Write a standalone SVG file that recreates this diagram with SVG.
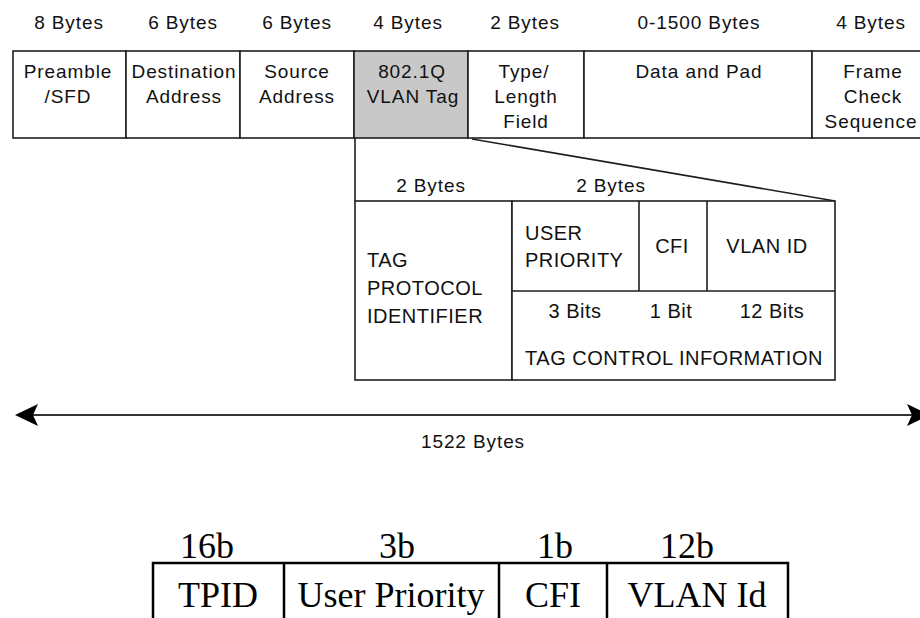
<svg xmlns="http://www.w3.org/2000/svg" width="920" height="618" viewBox="0 0 920 618">
  <style>
    .cell { fill: #ffffff; stroke: #1e1e1e; stroke-width: 1.6; }
    .tag { fill: #c8c8c8; stroke: #1e1e1e; stroke-width: 1.6; }
    .rule { stroke: #1e1e1e; stroke-width: 1.6; fill: none; }
    .lbl { font-family: "Liberation Sans", Arial, sans-serif; font-size: 19px; letter-spacing: 0.9px; fill: #111111; text-anchor: middle; }
    .det { font-family: "Liberation Sans", Arial, sans-serif; font-size: 20px; letter-spacing: 0.5px; fill: #111111; }
    .mid { text-anchor: middle; }
    .ser { font-family: "Liberation Serif", "Times New Roman", serif; font-size: 36px; fill: #000000; text-anchor: middle; }
    .box2 { fill: none; stroke: #000000; stroke-width: 2.5; }
  </style>

  <rect width="920" height="618" fill="#ffffff"/>

  <!-- byte counts above the Ethernet frame -->
  <g id="byte-sizes">
    <text class="lbl" x="69" y="29">8 Bytes</text>
    <text class="lbl" x="183" y="29">6 Bytes</text>
    <text class="lbl" x="297" y="29">6 Bytes</text>
    <text class="lbl" x="408" y="29">4 Bytes</text>
    <text class="lbl" x="525" y="29">2 Bytes</text>
    <text class="lbl" x="699" y="29">0-1500 Bytes</text>
    <text class="lbl" x="871" y="29">4 Bytes</text>
  </g>

  <!-- tagged Ethernet frame fields -->
  <g id="preamble">
    <rect class="cell" x="13" y="51" width="113" height="87"/>
    <text class="lbl" x="68" y="78">Preamble</text>
    <text class="lbl" x="68" y="103">/SFD</text>
  </g>
  <g id="destination">
    <rect class="cell" x="126" y="51" width="114" height="87"/>
    <text class="lbl" x="184" y="78">Destination</text>
    <text class="lbl" x="184" y="103">Address</text>
  </g>
  <g id="source">
    <rect class="cell" x="240" y="51" width="114" height="87"/>
    <text class="lbl" x="297" y="78">Source</text>
    <text class="lbl" x="297" y="103">Address</text>
  </g>
  <g id="vlan-tag">
    <rect class="tag" x="354" y="51" width="114" height="87"/>
    <text class="lbl" x="412" y="78">802.1Q</text>
    <text class="lbl" x="413" y="103">VLAN Tag</text>
  </g>
  <g id="type-length">
    <rect class="cell" x="468" y="51" width="116" height="87"/>
    <text class="lbl" x="524" y="78">Type/</text>
    <text class="lbl" x="526" y="103">Length</text>
    <text class="lbl" x="526" y="128">Field</text>
  </g>
  <g id="data">
    <rect class="cell" x="584" y="51" width="228" height="87"/>
    <text class="lbl" x="699" y="78">Data and Pad</text>
  </g>
  <g id="fcs">
    <rect class="cell" x="812" y="51" width="116" height="87"/>
    <text class="lbl" x="873" y="78">Frame</text>
    <text class="lbl" x="873" y="103">Check</text>
    <text class="lbl" x="871" y="128">Sequence</text>
  </g>

  <!-- expansion of the 802.1Q tag -->
  <g id="connectors">
    <line class="rule" x1="355" y1="138" x2="355" y2="201"/>
    <line class="rule" x1="472" y1="139" x2="835" y2="201" stroke-width="2"/>
  </g>

  <g id="tag-sizes">
    <text class="lbl" x="431" y="192">2 Bytes</text>
    <text class="lbl" x="611" y="192">2 Bytes</text>
  </g>

  <g id="tpid">
    <rect class="cell" x="355" y="201" width="157" height="179"/>
    <text class="det" x="367" y="267">TAG</text>
    <text class="det" x="367" y="295">PROTOCOL</text>
    <text class="det" x="367" y="323">IDENTIFIER</text>
  </g>
  <g id="tci">
    <rect class="cell" x="512" y="201" width="323" height="179"/>
    <line class="rule" x1="512" y1="291" x2="835" y2="291"/>
    <line class="rule" x1="639" y1="201" x2="639" y2="291"/>
    <line class="rule" x1="707" y1="201" x2="707" y2="291"/>
    <text class="det" x="525" y="240">USER</text>
    <text class="det" x="525" y="267">PRIORITY</text>
    <text class="det mid" x="672" y="253">CFI</text>
    <text class="det mid" x="767" y="253">VLAN ID</text>
    <text class="det mid" x="575" y="318">3 Bits</text>
    <text class="det mid" x="671" y="318">1 Bit</text>
    <text class="det mid" x="772" y="318">12 Bits</text>
    <text class="det mid" x="674" y="365">TAG CONTROL INFORMATION</text>
  </g>

  <!-- overall frame length -->
  <g id="length-arrow">
    <line x1="30" y1="415" x2="915" y2="415" stroke="#333333" stroke-width="2.2"/>
    <path d="M15,415 L38,404 L33,415 L38,426 Z" fill="#000000"/>
    <path d="M930,415 L907,404 L912,415 L907,426 Z" fill="#000000"/>
    <text class="lbl" x="473" y="448">1522 Bytes</text>
  </g>

  <!-- compact tag layout -->
  <g id="tag-bits">
    <text class="ser" x="207" y="558">16b</text>
    <text class="ser" x="397" y="558">3b</text>
    <text class="ser" x="555" y="558">1b</text>
    <text class="ser" x="687" y="558">12b</text>
    <path class="box2" d="M153,620 L153,563 L788,563 L788,620 M284,563 L284,620 M499,563 L499,620 M607,563 L607,620"/>
    <text class="ser" x="218" y="607">TPID</text>
    <text class="ser" x="391" y="607">User Priority</text>
    <text class="ser" x="553" y="607">CFI</text>
    <text class="ser" x="697" y="607">VLAN Id</text>
  </g>
</svg>
